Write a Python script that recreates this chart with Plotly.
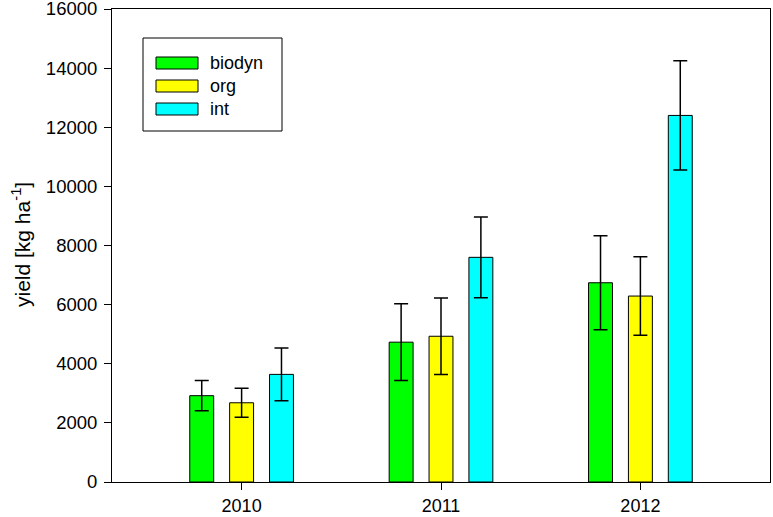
import plotly.graph_objects as go

years = ["2010", "2011", "2012"]
series_names = ["biodyn", "org", "int"]
biodyn = [2920, 4730, 6740]
org = [2680, 4930, 6290]
intens = [3640, 7600, 12400]
biodyn_err = [510, 1300, 1590]
org_err = [490, 1290, 1330]
int_err = [890, 1365, 1850]
colors = ["#00FF00", "#FFFF00", "#00FFFF"]
y_ticks = [0, 2000, 4000, 6000, 8000, 10000, 12000, 14000, 16000]

FONT = "Liberation Sans, Arial, sans-serif"

fig = go.Figure()
for name, vals, errs, col in zip(series_names, [biodyn, org, intens],
                                 [biodyn_err, org_err, int_err], colors):
    fig.add_trace(go.Bar(
        x=years, y=vals, name=name,
        marker=dict(color=col, line=dict(color="#000000", width=1)),
        error_y=dict(type="data", array=errs, visible=True,
                     color="#000000", thickness=1.5, width=7),
        showlegend=False,
    ))

# plot area in pixels: x 112..770, y 9..482
W, H = 773, 517
L, R, T, B = 112, 770, 9, 482
def px(xp):
    return (xp - L) / (R - L)
def py(yp):
    return (B - yp) / (B - T)

shapes = [dict(type="rect", xref="paper", yref="paper",
               x0=px(143), x1=px(282), y0=py(131), y1=py(38),
               line=dict(color="#000000", width=1), fillcolor="rgba(0,0,0,0)")]
annotations = []
row_centers = [63, 86, 109]
for name, col, yc in zip(series_names, colors, row_centers):
    shapes.append(dict(type="rect", xref="paper", yref="paper",
                       x0=px(156), x1=px(198), y0=py(yc + 6), y1=py(yc - 6),
                       line=dict(color="#000000", width=1), fillcolor=col))
    annotations.append(dict(xref="paper", yref="paper", x=px(208), y=py(yc),
                            xanchor="left", yanchor="middle", text=name,
                            showarrow=False,
                            font=dict(family=FONT, size=18, color="#000000")))

# y-axis title
annotations.append(dict(xref="paper", yref="paper", x=px(21), y=py(245),
                        xanchor="center", yanchor="middle", textangle=-90,
                        text="yield [kg ha<sup>-1</sup>]", showarrow=False,
                        font=dict(family=FONT, size=21, color="#000000")))

fig.update_layout(
    width=W, height=H,
    margin=dict(l=L, r=W - R, t=T, b=H - B, autoexpand=False),
    paper_bgcolor="white", plot_bgcolor="white",
    barmode="group", bargap=0.4, bargroupgap=0.4,
    font=dict(family=FONT, size=18, color="#000000"),
    shapes=shapes, annotations=annotations,
)
fig.update_xaxes(
    type="category", range=[-0.65, 2.65],
    showline=True, linecolor="#000000", linewidth=1, mirror=True,
    ticks="outside", ticklen=7, tickcolor="#000000", tickwidth=1,
    showgrid=False, zeroline=False,
    tickfont=dict(family=FONT, size=18, color="#000000"),
)
fig.update_yaxes(
    range=[0, 16000], tickvals=y_ticks, tickformat="d",
    ticklabeloverflow="allow", ticklabelstandoff=3,
    showline=True, linecolor="#000000", linewidth=1, mirror=True,
    ticks="outside", ticklen=7, tickcolor="#000000", tickwidth=1,
    showgrid=False, zeroline=False,
    tickfont=dict(family=FONT, size=18.5, color="#000000"),
)

fig.write_html("out.html", config={"displayModeBar": False},
               post_script="document.body.style.margin='0';document.body.style.overflow='hidden';")
